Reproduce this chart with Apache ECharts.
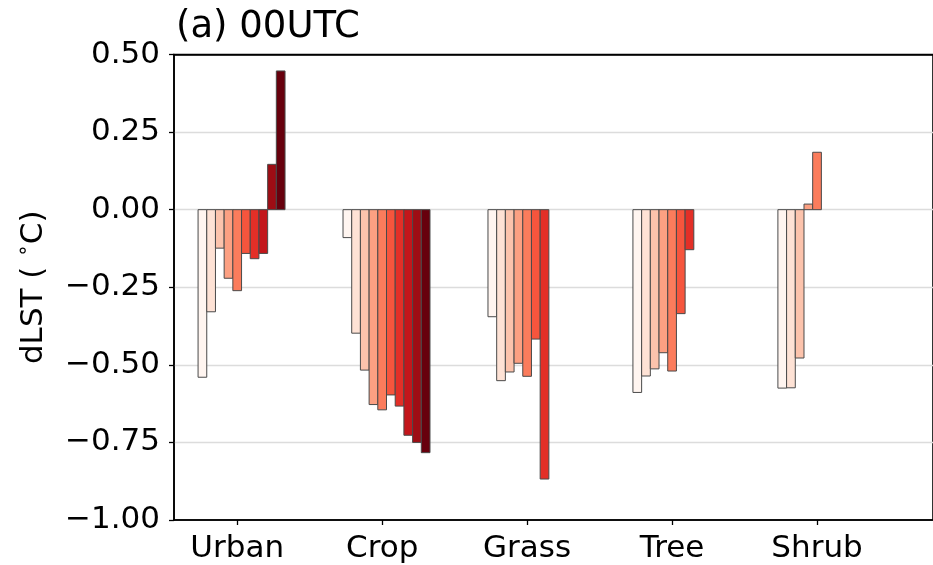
<!DOCTYPE html>
<html>
<head>
<meta charset="utf-8">
<script src="https://cdn.jsdelivr.net/npm/echarts@6/dist/echarts.min.js"></script>
<style>
html,body{margin:0;padding:0;background:#fff;}
#chart{width:933px;height:565px;}
</style>
</head>
<body>
<div id="chart"></div>
<script>
// Categories and per-category bar values (slot order, light → dark)
const categories = ['Urban', 'Crop', 'Grass', 'Tree', 'Shrub'];
const urban = [-0.540, -0.329, -0.124, -0.221, -0.261, -0.141, -0.158, -0.141, 0.146, 0.447];
const crop  = [-0.090, -0.398, -0.517, -0.628, -0.645, -0.597, -0.633, -0.727, -0.750, -0.783];
const grass = [-0.345, -0.551, -0.523, -0.495, -0.537, -0.417, -0.868];
const tree  = [-0.589, -0.536, -0.513, -0.461, -0.520, -0.335, -0.129];
const shrub = [-0.575, -0.574, -0.478, 0.018, 0.185];
const yTicks = [-1.00, -0.75, -0.50, -0.25, 0.00, 0.25, 0.50];
const slotColors = ['#fff5f0', '#fee2d5', '#fcc3ac', '#fca082', '#fb7c5c',
                    '#f6553d', '#e32f27', '#c3161b', '#9e0d14', '#67000d'];

const groups = [urban, crop, grass, tree, shrub];
const SLOT_W = 0.06;     // slot width in category units
const SLOT_CENTER = 4;   // slot index sitting on the category tick

const barData = [];
groups.forEach((g, i) => {
  g.forEach((v, j) => {
    barData.push([i + (j - SLOT_CENTER) * SLOT_W, v, j]);
  });
});

function renderBar(params, api) {
  const x = api.value(0), y = api.value(1), j = api.value(2);
  const p0 = api.coord([x - SLOT_W / 2, 0]);
  const p1 = api.coord([x + SLOT_W / 2, y]);
  return {
    type: 'rect',
    shape: {
      x: p0[0], y: Math.min(p0[1], p1[1]),
      width: p1[0] - p0[0], height: Math.abs(p1[1] - p0[1])
    },
    style: { fill: slotColors[j], stroke: '#4a4a4a', lineWidth: 1 }
  };
}

const font = 'DejaVu Sans';
const chart = echarts.init(document.getElementById('chart'), null, { renderer: 'canvas' });
chart.setOption({
  animation: false,
  backgroundColor: '#fff',
  title: {
    text: '(a) 00UTC',
    left: 171,
    top: 4,
    textStyle: { fontFamily: font, fontSize: 37, fontWeight: 'normal', color: '#000' }
  },
  grid: {
    left: 174, top: 54.5, height: 465.5, right: -9,
    show: true, borderColor: '#000', borderWidth: 1.6, backgroundColor: 'transparent'
  },
  xAxis: [{
    type: 'value',
    min: -0.436,
    max: 4.8,
    splitLine: { show: false },
    axisLine: { show: true, onZero: false, lineStyle: { color: '#000', width: 1.6 } },
    axisTick: { show: true, customValues: [0, 1, 2, 3, 4], length: 5, lineStyle: { color: '#000', width: 1.3 } },
    axisLabel: {
      customValues: [0, 1, 2, 3, 4],
      formatter: v => categories[Math.round(v)] || '',
      fontFamily: font, fontSize: 31, color: '#000', margin: 13
    }
  }, {
    type: 'value',
    position: 'top',
    min: -0.436,
    max: 4.8,
    splitLine: { show: false },
    axisLine: { show: true, onZero: false, lineStyle: { color: '#000', width: 1.6 } },
    axisTick: { show: false },
    axisLabel: { show: false }
  }],
  yAxis: {
    type: 'value',
    min: -1,
    max: 0.5,
    interval: 0.25,
    name: '{a|dLST ( }{s|∘}{a|C)}',
    nameLocation: 'middle',
    nameGap: 120,
    nameTextStyle: {
      fontFamily: font, fontSize: 31, color: '#000',
      rich: {
        a: { fontFamily: font, fontSize: 31, color: '#000', lineHeight: 40 },
        s: { fontFamily: font, fontSize: 20, color: '#000', verticalAlign: 'top', lineHeight: 24 }
      }
    },
    axisLine: { show: true, onZero: false, lineStyle: { color: '#000', width: 1.6 } },
    axisTick: { show: true, length: 5, lineStyle: { color: '#000', width: 1.3 } },
    axisLabel: {
      formatter: v => (v < 0 ? '\u2212' : '') + Math.abs(v).toFixed(2),
      fontFamily: font, fontSize: 31, color: '#000', margin: 14
    },
    splitLine: { show: true, showMaxLine: false, showMinLine: false, lineStyle: { color: '#dcdcdc', width: 1.3 } }
  },
  series: [{
    type: 'custom',
    data: barData,
    encode: { x: 0, y: 1 },
    renderItem: renderBar,
    silent: true,
    animation: false
  }]
});
</script>
</body>
</html>
